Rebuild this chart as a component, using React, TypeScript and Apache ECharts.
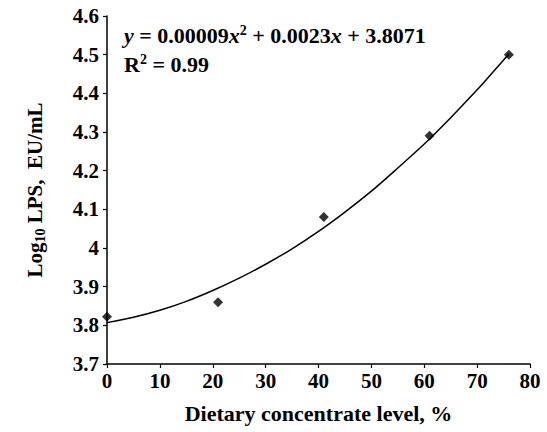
import React, { useEffect, useRef } from "react";
import * as echarts from "echarts";

const concentrate = [0, 21, 41, 61, 76];
const logLPS = [3.822, 3.86, 4.08, 4.29, 4.5];
const fitX = [0, 5, 10, 15, 20, 25, 30, 35, 40, 45, 50, 55, 60, 65, 70, 73, 76];
const fitY = [3.807, 3.821, 3.839, 3.862, 3.89, 3.922, 3.958, 3.998, 4.043, 4.093, 4.147, 4.207, 4.269, 4.337, 4.409, 4.455, 4.502];
const xTitle = "Dietary concentrate level, %";
const equationText = "{i|y} = 0.00009{i|x}{sup|2} + 0.0023{i|x} + 3.8071";
const r2Text = "R{sup|2} = 0.99";

const FONT = "'Liberation Serif', 'Times New Roman', serif";

export default function App() {
  const ref = useRef<HTMLDivElement>(null);
  useEffect(() => {
    if (!ref.current) return;
    const chart = echarts.init(ref.current, null, { renderer: "svg" });
    const baseText = { fontFamily: FONT, fontWeight: "bold" as const, fontSize: 21, color: "#000" };
    chart.setOption({
      animation: false,
      backgroundColor: "#fff",
      grid: { left: 107, top: 16, right: 17, bottom: 68 },
      xAxis: {
        type: "value",
        min: 0,
        max: 80,
        interval: 10,
        name: xTitle,
        nameLocation: "middle",
        nameGap: 38,
        nameTextStyle: { ...baseText, fontSize: 22 },
        axisLine: { show: true, lineStyle: { color: "#000", width: 1.5 } },
        axisTick: { show: true, length: 4, inside: false, lineStyle: { color: "#000", width: 1.2 } },
        axisLabel: { ...baseText, margin: 6 },
        splitLine: { show: false },
      },
      yAxis: {
        type: "value",
        min: 3.7,
        max: 4.6,
        interval: 0.1,
        name: "Log{sub|10} LPS,  EU/mL",
        nameLocation: "middle",
        nameGap: 60,
        nameRotate: 90,
        nameTextStyle: {
          ...baseText,
          rich: {
            sub: { fontFamily: FONT, fontWeight: "bold", fontSize: 14, color: "#000", padding: [10, 0, 0, 0] },
          },
        },
        axisLine: { show: true, lineStyle: { color: "#000", width: 1.5 } },
        axisTick: { show: true, length: 4, inside: false, lineStyle: { color: "#000", width: 1.2 } },
        axisLabel: {
          ...baseText,
          margin: 8,
          formatter: (v: number) => {
            const s = v.toFixed(1);
            return s === "4.0" ? "4" : s;
          },
        },
        splitLine: { show: false },
      },
      graphic: [
        {
          type: "text",
          left: 124,
          top: 23,
          style: {
            text: equationText,
            ...baseText,
            fontSize: 22,
            fill: "#000",
            rich: {
              i: { fontFamily: FONT, fontWeight: "bold", fontStyle: "italic", fontSize: 22, color: "#000" },
              sup: { fontFamily: FONT, fontWeight: "bold", fontSize: 14, color: "#000", padding: [0, 0, 10, 0] },
            },
          },
        },
        {
          type: "text",
          left: 124,
          top: 52,
          style: {
            text: r2Text,
            ...baseText,
            fontSize: 22,
            fill: "#000",
            rich: {
              sup: { fontFamily: FONT, fontWeight: "bold", fontSize: 14, color: "#000", padding: [0, 0, 10, 0] },
            },
          },
        },
      ],
      series: [
        {
          type: "line",
          data: fitX.map((x, i) => [x, fitY[i]]),
          smooth: 0.3,
          showSymbol: false,
          lineStyle: { color: "#000", width: 1.5 },
          z: 2,
        },
        {
          type: "scatter",
          data: concentrate.map((x, i) => [x, logLPS[i]]),
          symbol: "diamond",
          symbolSize: 10,
          itemStyle: { color: "#000" },
          z: 3,
        },
      ],
    });
    return () => chart.dispose();
  }, []);
  return <div ref={ref} style={{ width: 547, height: 432, position: "absolute", left: 0, top: 0 }} />;
}
